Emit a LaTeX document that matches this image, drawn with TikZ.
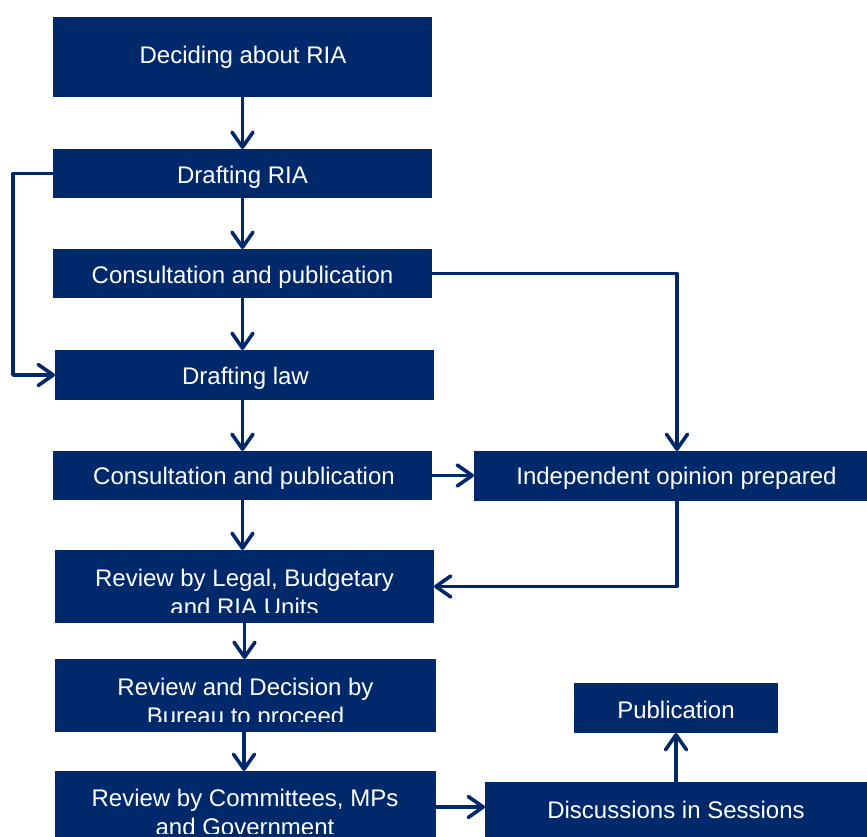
\documentclass[tikz,border=0pt]{standalone}
\usepackage{fontspec}
\setmainfont{Liberation Sans}
\usetikzlibrary{arrows.meta}
\definecolor{navy}{RGB}{0,41,107}
\begin{document}
\begin{tikzpicture}[x=1pt,y=-1pt,
  box/.style={fill=navy,draw=none,inner sep=0pt,outer sep=0pt},
  txt/.style={text=white,inner sep=0pt,anchor=base,font=\fontsize{24}{30}\selectfont},
  arr/.style={draw=navy,line width=3.6pt,line join=round,-{Straight Barb[length=15pt,width=21pt,round]}}]
\useasboundingbox (0,0) rectangle (867,837);
% boxes
\node[box,minimum width=379pt,minimum height=80pt] (n1) at (242.5,57) {};
\node[box,minimum width=379pt,minimum height=49pt] (n2) at (242.5,173.5) {};
\node[box,minimum width=379pt,minimum height=49pt] (n3) at (242.5,273.5) {};
\node[box,minimum width=379pt,minimum height=50pt] (n4) at (244.5,375) {};
\node[box,minimum width=379pt,minimum height=49pt] (n5) at (242.5,475.5) {};
\node[box,minimum width=393pt,minimum height=50pt] (n6) at (670.5,476) {};
\node[box,minimum width=379pt,minimum height=73pt] (n7) at (244.5,586.5) {};
\node[box,minimum width=381pt,minimum height=73pt] (n8) at (245.5,695.5) {};
\node[box,minimum width=381pt,minimum height=66pt] (n9) at (245.5,804) {};
\node[box,minimum width=204pt,minimum height=50pt] (n10) at (676,708) {};
\node[box,minimum width=382pt,minimum height=55pt] (n11) at (676,809.5) {};
% texts
\node[txt] (t1) at (243,63.3) {Deciding about RIA};
\node[txt] (t2) at (242.5,183.3) {Drafting RIA};
\node[txt] (t3) at (242.5,283.3) {Consultation and publication};
\node[txt] (t4) at (245.5,384.3) {Drafting law};
\node[txt] (t5) at (244,484) {Consultation and publication};
\node[txt] (t6) at (676.5,484.3) {Independent opinion prepared};
\begin{scope}
\clip (55,550) rectangle (434,612.5);
\node[txt] (t7a) at (244.5,586) {Review by Legal, Budgetary};
\node[txt] (t7b) at (244.5,615.7) {and RIA Units};
\end{scope}
\begin{scope}
\clip (55,659) rectangle (436,721.5);
\node[txt] (t8a) at (245.5,695) {Review and Decision by};
\node[txt] (t8b) at (245.5,724.5) {Bureau to proceed};
\end{scope}
\begin{scope}
\clip (55,771) rectangle (436,833.5);
\node[txt] (t9a) at (245,806.7) {Review by Committees, MPs};
\node[txt] (t9b) at (245,835) {and Government};
\end{scope}
\node[txt] (t10) at (676,718.3) {Publication};
\node[txt] (t11) at (676,818.3) {Discussions in Sessions};
% connectors
\draw[arr] (n1.south) -- (n2.north);
\draw[arr] (n2.south) -- (n3.north);
\draw[arr] (n3.south) -- (n3.south |- n4.north);
\draw[arr] (n5.north |- n4.south) -- (n5.north);
\draw[arr] (n5.south) -- (n5.south |- n7.north);
\draw[arr] (n7.south) -- (n7.south |- n8.north);
\draw[arr] ([xshift=-1.5pt]n8.south) -- ([xshift=-1.5pt]n8.south |- n9.north);
\draw[arr] (n2.west) -- ++(-40,0) |- (n4.west);
\draw[arr] (n3.east) -| ([xshift=6.5pt]n6.north);
\draw[arr] (n5.east) -- (n5.east -| n6.west);
\draw[arr] ([xshift=6.5pt]n6.south) |- (n7.east);
\draw[arr] ([yshift=-3pt]n9.east) -- ([yshift=-3pt]n9.east -| n11.west);
\draw[arr] (n10.south |- n11.north) -- (n10.south);
\end{tikzpicture}
\end{document}
